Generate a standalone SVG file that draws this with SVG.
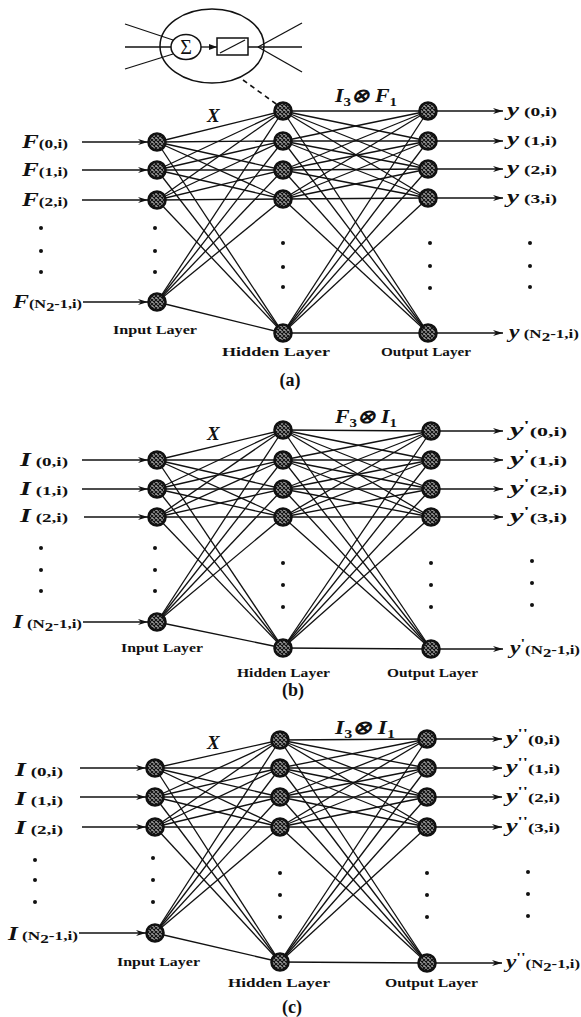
<svg xmlns="http://www.w3.org/2000/svg" width="581" height="1017" viewBox="0 0 581 1017">
<style>
.e{stroke:#111;stroke-width:1.3;fill:none}
.ar{stroke:#111;stroke-width:1.4;fill:none;marker-end:url(#ah)}
.n{fill:url(#mesh);stroke:#111;stroke-width:2.6}
.d{fill:#111}
text{font-family:"Liberation Serif","Times New Roman",serif;font-weight:bold;fill:#111}
.big{font-style:italic;font-size:19px}
.sm{font-style:normal;font-size:13px}
.lay{font-size:13px}
.cap{font-size:18px}
.yl{font-size:13px}
.yy{font-style:italic;font-size:18px}
</style>
<defs>
<pattern id="mesh" width="4" height="4" patternUnits="userSpaceOnUse"><rect width="4" height="4" fill="#9a9a9a"/><path d="M0 0L4 4M4 0L0 4" stroke="#111" stroke-width="1.1"/></pattern>
<marker id="ah" viewBox="0 0 10 6" refX="10" refY="3" markerWidth="10" markerHeight="6" markerUnits="userSpaceOnUse" orient="auto"><path d="M0 0L10 3L0 6L3 3Z" fill="#111"/></marker>
<marker id="sa" viewBox="0 0 8 6" refX="8" refY="3" markerWidth="8" markerHeight="6" markerUnits="userSpaceOnUse" orient="auto"><path d="M0 0L8 3L0 6Z" fill="#111"/></marker>
</defs>
<rect width="581" height="1017" fill="#fff"/>

<g id="neuron">
<ellipse cx="212" cy="46" rx="52" ry="37" fill="none" stroke="#111" stroke-width="1.5"/>
<line x1="125" y1="24" x2="173" y2="40" class="e"/>
<line x1="125" y1="47" x2="171" y2="47" class="e" stroke-width="2"/>
<line x1="125" y1="69" x2="173" y2="54" class="e"/>
<ellipse cx="186" cy="47" rx="15" ry="12.5" fill="#fff" stroke="#111" stroke-width="1.5"/>
<text x="186" y="54" text-anchor="middle" style="font-size:20px;font-weight:normal">Σ</text>
<line x1="201" y1="47" x2="217" y2="47" class="e" stroke-width="1.5" marker-end="url(#sa)"/>
<rect x="217" y="38" width="31" height="17" fill="#fff" stroke="#111" stroke-width="1.5"/>
<line x1="220" y1="53" x2="245" y2="40" class="e"/>
<line x1="248" y1="47" x2="302" y2="47" class="e" stroke-width="2"/>
<line x1="258" y1="47" x2="302" y2="23" class="e"/>
<line x1="258" y1="47" x2="302" y2="72" class="e"/>
<line x1="243" y1="80" x2="279" y2="106" stroke="#111" stroke-width="1.6" stroke-dasharray="5 4"/>
</g>

<g id="connectors">
<line class="e" x1="157" y1="142" x2="283" y2="111"/><line class="e" x1="157" y1="142" x2="283" y2="141"/><line class="e" x1="157" y1="142" x2="283" y2="170"/><line class="e" x1="157" y1="142" x2="283" y2="199"/><line class="e" x1="157" y1="142" x2="283" y2="333"/>
<line class="e" x1="157" y1="170" x2="283" y2="111"/><line class="e" x1="157" y1="170" x2="283" y2="141"/><line class="e" x1="157" y1="170" x2="283" y2="170"/><line class="e" x1="157" y1="170" x2="283" y2="199"/><line class="e" x1="157" y1="170" x2="283" y2="333"/>
<line class="e" x1="157" y1="200" x2="283" y2="111"/><line class="e" x1="157" y1="200" x2="283" y2="141"/><line class="e" x1="157" y1="200" x2="283" y2="170"/><line class="e" x1="157" y1="200" x2="283" y2="199"/><line class="e" x1="157" y1="200" x2="283" y2="333"/>
<line class="e" x1="157" y1="302" x2="283" y2="111"/><line class="e" x1="157" y1="302" x2="283" y2="141"/><line class="e" x1="157" y1="302" x2="283" y2="170"/><line class="e" x1="157" y1="302" x2="283" y2="199"/><line class="e" x1="157" y1="302" x2="283" y2="333"/>
<line class="e" x1="283" y1="111" x2="428" y2="111"/><line class="e" x1="283" y1="111" x2="428" y2="141"/><line class="e" x1="283" y1="111" x2="428" y2="169"/><line class="e" x1="283" y1="111" x2="428" y2="198"/><line class="e" x1="283" y1="111" x2="428" y2="333"/>
<line class="e" x1="283" y1="141" x2="428" y2="111"/><line class="e" x1="283" y1="141" x2="428" y2="141"/><line class="e" x1="283" y1="141" x2="428" y2="169"/><line class="e" x1="283" y1="141" x2="428" y2="198"/><line class="e" x1="283" y1="141" x2="428" y2="333"/>
<line class="e" x1="283" y1="170" x2="428" y2="111"/><line class="e" x1="283" y1="170" x2="428" y2="141"/><line class="e" x1="283" y1="170" x2="428" y2="169"/><line class="e" x1="283" y1="170" x2="428" y2="198"/><line class="e" x1="283" y1="170" x2="428" y2="333"/>
<line class="e" x1="283" y1="199" x2="428" y2="111"/><line class="e" x1="283" y1="199" x2="428" y2="141"/><line class="e" x1="283" y1="199" x2="428" y2="169"/><line class="e" x1="283" y1="199" x2="428" y2="198"/><line class="e" x1="283" y1="199" x2="428" y2="333"/>
<line class="e" x1="283" y1="333" x2="428" y2="111"/><line class="e" x1="283" y1="333" x2="428" y2="141"/><line class="e" x1="283" y1="333" x2="428" y2="169"/><line class="e" x1="283" y1="333" x2="428" y2="198"/><line class="e" x1="283" y1="333" x2="428" y2="333"/>
<line class="ar" x1="82" y1="142" x2="148" y2="142"/><line class="ar" x1="82" y1="170" x2="148" y2="170"/><line class="ar" x1="82" y1="200" x2="148" y2="200"/><line class="ar" x1="83" y1="302" x2="148" y2="302"/>
<line class="ar" x1="437" y1="111" x2="503" y2="111"/><line class="ar" x1="437" y1="141" x2="503" y2="141"/><line class="ar" x1="437" y1="169" x2="503" y2="169"/><line class="ar" x1="437" y1="198" x2="503" y2="198"/><line class="ar" x1="437" y1="333" x2="503" y2="333"/>

<line class="e" x1="157" y1="460" x2="283" y2="430"/><line class="e" x1="157" y1="460" x2="283" y2="460"/><line class="e" x1="157" y1="460" x2="283" y2="489"/><line class="e" x1="157" y1="460" x2="283" y2="517"/><line class="e" x1="157" y1="460" x2="283" y2="648"/>
<line class="e" x1="157" y1="489" x2="283" y2="430"/><line class="e" x1="157" y1="489" x2="283" y2="460"/><line class="e" x1="157" y1="489" x2="283" y2="489"/><line class="e" x1="157" y1="489" x2="283" y2="517"/><line class="e" x1="157" y1="489" x2="283" y2="648"/>
<line class="e" x1="157" y1="517" x2="283" y2="430"/><line class="e" x1="157" y1="517" x2="283" y2="460"/><line class="e" x1="157" y1="517" x2="283" y2="489"/><line class="e" x1="157" y1="517" x2="283" y2="517"/><line class="e" x1="157" y1="517" x2="283" y2="648"/>
<line class="e" x1="157" y1="622" x2="283" y2="430"/><line class="e" x1="157" y1="622" x2="283" y2="460"/><line class="e" x1="157" y1="622" x2="283" y2="489"/><line class="e" x1="157" y1="622" x2="283" y2="517"/><line class="e" x1="157" y1="622" x2="283" y2="648"/>
<line class="e" x1="283" y1="430" x2="431" y2="431"/><line class="e" x1="283" y1="430" x2="431" y2="460"/><line class="e" x1="283" y1="430" x2="431" y2="489"/><line class="e" x1="283" y1="430" x2="431" y2="517"/><line class="e" x1="283" y1="430" x2="431" y2="649"/>
<line class="e" x1="283" y1="460" x2="431" y2="431"/><line class="e" x1="283" y1="460" x2="431" y2="460"/><line class="e" x1="283" y1="460" x2="431" y2="489"/><line class="e" x1="283" y1="460" x2="431" y2="517"/><line class="e" x1="283" y1="460" x2="431" y2="649"/>
<line class="e" x1="283" y1="489" x2="431" y2="431"/><line class="e" x1="283" y1="489" x2="431" y2="460"/><line class="e" x1="283" y1="489" x2="431" y2="489"/><line class="e" x1="283" y1="489" x2="431" y2="517"/><line class="e" x1="283" y1="489" x2="431" y2="649"/>
<line class="e" x1="283" y1="517" x2="431" y2="431"/><line class="e" x1="283" y1="517" x2="431" y2="460"/><line class="e" x1="283" y1="517" x2="431" y2="489"/><line class="e" x1="283" y1="517" x2="431" y2="517"/><line class="e" x1="283" y1="517" x2="431" y2="649"/>
<line class="e" x1="283" y1="648" x2="431" y2="431"/><line class="e" x1="283" y1="648" x2="431" y2="460"/><line class="e" x1="283" y1="648" x2="431" y2="489"/><line class="e" x1="283" y1="648" x2="431" y2="517"/><line class="e" x1="283" y1="648" x2="431" y2="649"/>
<line class="ar" x1="82" y1="460" x2="148" y2="460"/><line class="ar" x1="82" y1="489" x2="148" y2="489"/><line class="ar" x1="84" y1="517" x2="148" y2="517"/><line class="ar" x1="83" y1="622" x2="148" y2="622"/>
<line class="ar" x1="440" y1="431" x2="503" y2="431"/><line class="ar" x1="440" y1="460" x2="503" y2="460"/><line class="ar" x1="440" y1="489" x2="503" y2="489"/><line class="ar" x1="440" y1="517" x2="503" y2="517"/><line class="ar" x1="440" y1="649" x2="503" y2="649"/>

<line class="e" x1="155" y1="768" x2="280" y2="740"/><line class="e" x1="155" y1="768" x2="280" y2="768"/><line class="e" x1="155" y1="768" x2="280" y2="797"/><line class="e" x1="155" y1="768" x2="280" y2="827"/><line class="e" x1="155" y1="768" x2="280" y2="962"/>
<line class="e" x1="155" y1="797" x2="280" y2="740"/><line class="e" x1="155" y1="797" x2="280" y2="768"/><line class="e" x1="155" y1="797" x2="280" y2="797"/><line class="e" x1="155" y1="797" x2="280" y2="827"/><line class="e" x1="155" y1="797" x2="280" y2="962"/>
<line class="e" x1="155" y1="827" x2="280" y2="740"/><line class="e" x1="155" y1="827" x2="280" y2="768"/><line class="e" x1="155" y1="827" x2="280" y2="797"/><line class="e" x1="155" y1="827" x2="280" y2="827"/><line class="e" x1="155" y1="827" x2="280" y2="962"/>
<line class="e" x1="155" y1="933" x2="280" y2="740"/><line class="e" x1="155" y1="933" x2="280" y2="768"/><line class="e" x1="155" y1="933" x2="280" y2="797"/><line class="e" x1="155" y1="933" x2="280" y2="827"/><line class="e" x1="155" y1="933" x2="280" y2="962"/>
<line class="e" x1="280" y1="740" x2="427" y2="739"/><line class="e" x1="280" y1="740" x2="427" y2="768"/><line class="e" x1="280" y1="740" x2="427" y2="797"/><line class="e" x1="280" y1="740" x2="427" y2="827"/><line class="e" x1="280" y1="740" x2="427" y2="963"/>
<line class="e" x1="280" y1="768" x2="427" y2="739"/><line class="e" x1="280" y1="768" x2="427" y2="768"/><line class="e" x1="280" y1="768" x2="427" y2="797"/><line class="e" x1="280" y1="768" x2="427" y2="827"/><line class="e" x1="280" y1="768" x2="427" y2="963"/>
<line class="e" x1="280" y1="797" x2="427" y2="739"/><line class="e" x1="280" y1="797" x2="427" y2="768"/><line class="e" x1="280" y1="797" x2="427" y2="797"/><line class="e" x1="280" y1="797" x2="427" y2="827"/><line class="e" x1="280" y1="797" x2="427" y2="963"/>
<line class="e" x1="280" y1="827" x2="427" y2="739"/><line class="e" x1="280" y1="827" x2="427" y2="768"/><line class="e" x1="280" y1="827" x2="427" y2="797"/><line class="e" x1="280" y1="827" x2="427" y2="827"/><line class="e" x1="280" y1="827" x2="427" y2="963"/>
<line class="e" x1="280" y1="962" x2="427" y2="739"/><line class="e" x1="280" y1="962" x2="427" y2="768"/><line class="e" x1="280" y1="962" x2="427" y2="797"/><line class="e" x1="280" y1="962" x2="427" y2="827"/><line class="e" x1="280" y1="962" x2="427" y2="963"/>
<line class="ar" x1="80" y1="768" x2="146" y2="768"/><line class="ar" x1="80" y1="797" x2="146" y2="797"/><line class="ar" x1="82" y1="827" x2="146" y2="827"/><line class="ar" x1="79" y1="933" x2="146" y2="933"/>
<line class="ar" x1="436" y1="739" x2="502" y2="739"/><line class="ar" x1="436" y1="768" x2="502" y2="768"/><line class="ar" x1="436" y1="797" x2="502" y2="797"/><line class="ar" x1="436" y1="827" x2="502" y2="827"/><line class="ar" x1="436" y1="963" x2="502" y2="963"/>
</g>

<g id="a_in0"><circle class="n" cx="157" cy="142" r="8.5"/></g>
<g id="a_in1"><circle class="n" cx="157" cy="170" r="8.5"/></g>
<g id="a_in2"><circle class="n" cx="157" cy="200" r="8.5"/></g>
<g id="a_inN"><circle class="n" cx="157" cy="302" r="8.5"/></g>
<g id="a_h0"><circle class="n" cx="283" cy="111" r="8.5"/></g>
<g id="a_h1"><circle class="n" cx="283" cy="141" r="8.5"/></g>
<g id="a_h2"><circle class="n" cx="283" cy="170" r="8.5"/></g>
<g id="a_h3"><circle class="n" cx="283" cy="199" r="8.5"/></g>
<g id="a_hN"><circle class="n" cx="283" cy="333" r="8.5"/></g>
<g id="a_o0"><circle class="n" cx="428" cy="111" r="8.5"/></g>
<g id="a_o1"><circle class="n" cx="428" cy="141" r="8.5"/></g>
<g id="a_o2"><circle class="n" cx="428" cy="169" r="8.5"/></g>
<g id="a_o3"><circle class="n" cx="428" cy="198" r="8.5"/></g>
<g id="a_oN"><circle class="n" cx="428" cy="333" r="8.5"/></g>
<g id="b_in0"><circle class="n" cx="157" cy="460" r="8.5"/></g>
<g id="b_in1"><circle class="n" cx="157" cy="489" r="8.5"/></g>
<g id="b_in2"><circle class="n" cx="157" cy="517" r="8.5"/></g>
<g id="b_inN"><circle class="n" cx="157" cy="622" r="8.5"/></g>
<g id="b_h0"><circle class="n" cx="283" cy="430" r="8.5"/></g>
<g id="b_h1"><circle class="n" cx="283" cy="460" r="8.5"/></g>
<g id="b_h2"><circle class="n" cx="283" cy="489" r="8.5"/></g>
<g id="b_h3"><circle class="n" cx="283" cy="517" r="8.5"/></g>
<g id="b_hN"><circle class="n" cx="283" cy="648" r="8.5"/></g>
<g id="b_o0"><circle class="n" cx="431" cy="431" r="8.5"/></g>
<g id="b_o1"><circle class="n" cx="431" cy="460" r="8.5"/></g>
<g id="b_o2"><circle class="n" cx="431" cy="489" r="8.5"/></g>
<g id="b_o3"><circle class="n" cx="431" cy="517" r="8.5"/></g>
<g id="b_oN"><circle class="n" cx="431" cy="649" r="8.5"/></g>
<g id="c_in0"><circle class="n" cx="155" cy="768" r="8.5"/></g>
<g id="c_in1"><circle class="n" cx="155" cy="797" r="8.5"/></g>
<g id="c_in2"><circle class="n" cx="155" cy="827" r="8.5"/></g>
<g id="c_inN"><circle class="n" cx="155" cy="933" r="8.5"/></g>
<g id="c_h0"><circle class="n" cx="280" cy="740" r="8.5"/></g>
<g id="c_h1"><circle class="n" cx="280" cy="768" r="8.5"/></g>
<g id="c_h2"><circle class="n" cx="280" cy="797" r="8.5"/></g>
<g id="c_h3"><circle class="n" cx="280" cy="827" r="8.5"/></g>
<g id="c_hN"><circle class="n" cx="280" cy="962" r="8.5"/></g>
<g id="c_o0"><circle class="n" cx="427" cy="739" r="8.5"/></g>
<g id="c_o1"><circle class="n" cx="427" cy="768" r="8.5"/></g>
<g id="c_o2"><circle class="n" cx="427" cy="797" r="8.5"/></g>
<g id="c_o3"><circle class="n" cx="427" cy="827" r="8.5"/></g>
<g id="c_oN"><circle class="n" cx="427" cy="963" r="8.5"/></g>

<g id="dots">
<circle class="d" cx="41" cy="228" r="2"/><circle class="d" cx="41" cy="251" r="2"/><circle class="d" cx="41" cy="272" r="2"/>
<circle class="d" cx="155" cy="228" r="2"/><circle class="d" cx="155" cy="251" r="2"/><circle class="d" cx="155" cy="272" r="2"/>
<circle class="d" cx="283" cy="243" r="2"/><circle class="d" cx="283" cy="267" r="2"/><circle class="d" cx="283" cy="287" r="2"/>
<circle class="d" cx="430" cy="243" r="2"/><circle class="d" cx="430" cy="266" r="2"/><circle class="d" cx="430" cy="288" r="2"/>
<circle class="d" cx="530" cy="243" r="2"/><circle class="d" cx="530" cy="266" r="2"/><circle class="d" cx="530" cy="287" r="2"/>
<circle class="d" cx="41" cy="548" r="2"/><circle class="d" cx="41" cy="570" r="2"/><circle class="d" cx="41" cy="591" r="2"/>
<circle class="d" cx="155" cy="548" r="2"/><circle class="d" cx="155" cy="570" r="2"/><circle class="d" cx="155" cy="591" r="2"/>
<circle class="d" cx="283" cy="563" r="2"/><circle class="d" cx="283" cy="585" r="2"/><circle class="d" cx="283" cy="607" r="2"/>
<circle class="d" cx="431" cy="563" r="2"/><circle class="d" cx="431" cy="585" r="2"/><circle class="d" cx="431" cy="607" r="2"/>
<circle class="d" cx="532" cy="561" r="2"/><circle class="d" cx="532" cy="583" r="2"/><circle class="d" cx="532" cy="605" r="2"/>
<circle class="d" cx="35" cy="860" r="2"/><circle class="d" cx="35" cy="880" r="2"/><circle class="d" cx="35" cy="902" r="2"/>
<circle class="d" cx="153" cy="858" r="2"/><circle class="d" cx="153" cy="880" r="2"/><circle class="d" cx="153" cy="902" r="2"/>
<circle class="d" cx="280" cy="873" r="2"/><circle class="d" cx="280" cy="895" r="2"/><circle class="d" cx="280" cy="917" r="2"/>
<circle class="d" cx="427" cy="873" r="2"/><circle class="d" cx="427" cy="895" r="2"/><circle class="d" cx="427" cy="917" r="2"/>
<circle class="d" cx="528" cy="872" r="2"/><circle class="d" cx="528" cy="894" r="2"/><circle class="d" cx="528" cy="916" r="2"/>
</g>

<g id="labels_a">
<text x="207" y="122" class="big">X</text>
<text x="335" y="102" class="big" textLength="62" lengthAdjust="spacingAndGlyphs">I<tspan class="sm" dy="4">3</tspan><tspan dy="-4">⊗ F</tspan><tspan class="sm" dy="4">1</tspan></text>
<text x="22" y="148" textLength="46" lengthAdjust="spacingAndGlyphs"><tspan class="big">F</tspan><tspan class="sm">(0,i)</tspan></text>
<text x="22" y="176" textLength="46" lengthAdjust="spacingAndGlyphs"><tspan class="big">F</tspan><tspan class="sm">(1,i)</tspan></text>
<text x="22" y="206" textLength="46" lengthAdjust="spacingAndGlyphs"><tspan class="big">F</tspan><tspan class="sm">(2,i)</tspan></text>
<text x="13" y="308" textLength="69" lengthAdjust="spacingAndGlyphs"><tspan class="big">F</tspan><tspan class="sm">(N</tspan><tspan class="sm" font-size="9" dy="3">2</tspan><tspan class="sm" dy="-3">-1,i)</tspan></text>
<text x="507" y="116" textLength="50" lengthAdjust="spacingAndGlyphs"><tspan class="yy">y</tspan><tspan class="yl"> (0,i)</tspan></text>
<text x="507" y="145" textLength="50" lengthAdjust="spacingAndGlyphs"><tspan class="yy">y</tspan><tspan class="yl"> (1,i)</tspan></text>
<text x="507" y="174" textLength="50" lengthAdjust="spacingAndGlyphs"><tspan class="yy">y</tspan><tspan class="yl"> (2,i)</tspan></text>
<text x="507" y="203" textLength="50" lengthAdjust="spacingAndGlyphs"><tspan class="yy">y</tspan><tspan class="yl"> (3,i)</tspan></text>
<text x="509" y="338" textLength="70" lengthAdjust="spacingAndGlyphs"><tspan class="yy">y</tspan><tspan class="yl"> (N</tspan><tspan class="yl" font-size="9" dy="3">2</tspan><tspan class="yl" dy="-3">-1,i)</tspan></text>
<text x="113" y="334" class="lay" textLength="84" lengthAdjust="spacingAndGlyphs">Input Layer</text>
<text x="222" y="356" class="lay" textLength="108" lengthAdjust="spacingAndGlyphs">Hidden Layer</text>
<text x="381" y="356" class="lay" textLength="90" lengthAdjust="spacingAndGlyphs">Output Layer</text>
<text x="290" y="386" class="cap" text-anchor="middle">(a)</text>
</g>

<g id="labels_b">
<text x="207" y="440" class="big">X</text>
<text x="335" y="423" class="big" textLength="62" lengthAdjust="spacingAndGlyphs">F<tspan class="sm" dy="4">3</tspan><tspan dy="-4">⊗ I</tspan><tspan class="sm" dy="4">1</tspan></text>
<text x="20" y="466" textLength="48" lengthAdjust="spacingAndGlyphs"><tspan class="big">I</tspan><tspan class="sm"> (0,i)</tspan></text>
<text x="20" y="495" textLength="48" lengthAdjust="spacingAndGlyphs"><tspan class="big">I</tspan><tspan class="sm"> (1,i)</tspan></text>
<text x="20" y="522" textLength="48" lengthAdjust="spacingAndGlyphs"><tspan class="big">I</tspan><tspan class="sm"> (2,i)</tspan></text>
<text x="13" y="628" textLength="69" lengthAdjust="spacingAndGlyphs"><tspan class="big">I</tspan><tspan class="sm"> (N</tspan><tspan class="sm" font-size="9" dy="3">2</tspan><tspan class="sm" dy="-3">-1,i)</tspan></text>
<text x="510" y="436" textLength="57" lengthAdjust="spacingAndGlyphs"><tspan class="yy">y</tspan><tspan class="yl" dy="-7">'</tspan><tspan class="yl" dy="7">(0,i)</tspan></text>
<text x="510" y="465" textLength="57" lengthAdjust="spacingAndGlyphs"><tspan class="yy">y</tspan><tspan class="yl" dy="-7">'</tspan><tspan class="yl" dy="7">(1,i)</tspan></text>
<text x="510" y="494" textLength="57" lengthAdjust="spacingAndGlyphs"><tspan class="yy">y</tspan><tspan class="yl" dy="-7">'</tspan><tspan class="yl" dy="7">(2,i)</tspan></text>
<text x="510" y="522" textLength="57" lengthAdjust="spacingAndGlyphs"><tspan class="yy">y</tspan><tspan class="yl" dy="-7">'</tspan><tspan class="yl" dy="7">(3,i)</tspan></text>
<text x="510" y="654" textLength="70" lengthAdjust="spacingAndGlyphs"><tspan class="yy">y</tspan><tspan class="yl" dy="-7">'</tspan><tspan class="yl" dy="7">(N</tspan><tspan class="yl" font-size="9" dy="3">2</tspan><tspan class="yl" dy="-3">-1,i)</tspan></text>
<text x="121" y="652" class="lay" textLength="82" lengthAdjust="spacingAndGlyphs">Input Layer</text>
<text x="237" y="677" class="lay" textLength="93" lengthAdjust="spacingAndGlyphs">Hidden Layer</text>
<text x="387" y="677" class="lay" textLength="91" lengthAdjust="spacingAndGlyphs">Output Layer</text>
<text x="293" y="696" class="cap" text-anchor="middle">(b)</text>
</g>

<g id="labels_c">
<text x="207" y="749" class="big">X</text>
<text x="335" y="734" class="big" textLength="60" lengthAdjust="spacingAndGlyphs">I<tspan class="sm" dy="4">3</tspan><tspan dy="-4">⊗ I</tspan><tspan class="sm" dy="4">1</tspan></text>
<text x="15" y="776" textLength="48" lengthAdjust="spacingAndGlyphs"><tspan class="big">I</tspan><tspan class="sm"> (0,i)</tspan></text>
<text x="15" y="805" textLength="48" lengthAdjust="spacingAndGlyphs"><tspan class="big">I</tspan><tspan class="sm"> (1,i)</tspan></text>
<text x="15" y="834" textLength="48" lengthAdjust="spacingAndGlyphs"><tspan class="big">I</tspan><tspan class="sm"> (2,i)</tspan></text>
<text x="8" y="940" textLength="70" lengthAdjust="spacingAndGlyphs"><tspan class="big">I</tspan><tspan class="sm"> (N</tspan><tspan class="sm" font-size="9" dy="3">2</tspan><tspan class="sm" dy="-3">-1,i)</tspan></text>
<text x="506" y="744" textLength="54" lengthAdjust="spacingAndGlyphs"><tspan class="yy">y</tspan><tspan class="yl" dy="-7">''</tspan><tspan class="yl" dy="7">(0,i)</tspan></text>
<text x="506" y="773" textLength="54" lengthAdjust="spacingAndGlyphs"><tspan class="yy">y</tspan><tspan class="yl" dy="-7">''</tspan><tspan class="yl" dy="7">(1,i)</tspan></text>
<text x="506" y="802" textLength="54" lengthAdjust="spacingAndGlyphs"><tspan class="yy">y</tspan><tspan class="yl" dy="-7">''</tspan><tspan class="yl" dy="7">(2,i)</tspan></text>
<text x="506" y="832" textLength="54" lengthAdjust="spacingAndGlyphs"><tspan class="yy">y</tspan><tspan class="yl" dy="-7">''</tspan><tspan class="yl" dy="7">(3,i)</tspan></text>
<text x="506" y="968" textLength="74" lengthAdjust="spacingAndGlyphs"><tspan class="yy">y</tspan><tspan class="yl" dy="-7">''</tspan><tspan class="yl" dy="7">(N</tspan><tspan class="yl" font-size="9" dy="3">2</tspan><tspan class="yl" dy="-3">-1,i)</tspan></text>
<text x="117" y="966" class="lay" textLength="83" lengthAdjust="spacingAndGlyphs">Input Layer</text>
<text x="228" y="987" class="lay" textLength="102" lengthAdjust="spacingAndGlyphs">Hidden Layer</text>
<text x="385" y="987" class="lay" textLength="93" lengthAdjust="spacingAndGlyphs">Output Layer</text>
<text x="292" y="1013" class="cap" text-anchor="middle">(c)</text>
</g>
</svg>
